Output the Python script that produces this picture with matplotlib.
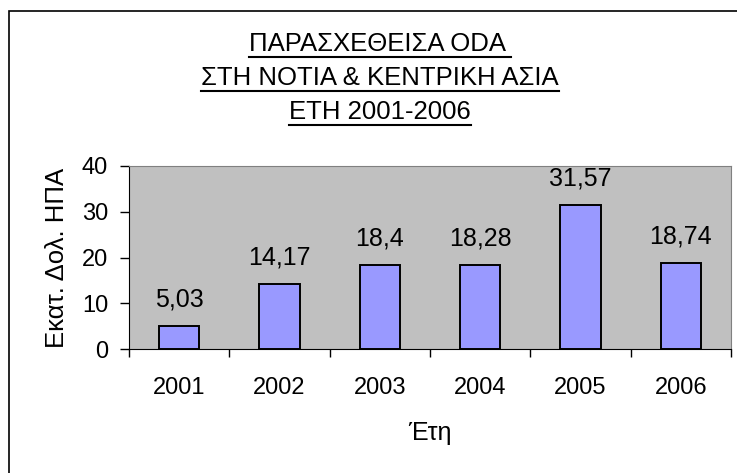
import numpy as np
import matplotlib
matplotlib.use("Agg")
import matplotlib.pyplot as plt
from matplotlib.patches import Rectangle
from matplotlib.lines import Line2D

years = ["2001", "2002", "2003", "2004", "2005", "2006"]
values = [5.03, 14.17, 18.4, 18.28, 31.57, 18.74]
value_labels = ["5,03", "14,17", "18,4", "18,28", "31,57", "18,74"]
title_lines = ["ΠΑΡΑΣΧΕΘΕΙΣΑ ODA ", "ΣΤΗ ΝΟΤΙΑ & ΚΕΝΤΡΙΚΗ ΑΣΙΑ", "ΕΤΗ 2001-2006"]

plt.rcParams['font.family'] = ['Liberation Sans', 'DejaVu Sans']

W, H = 737, 473
fig = plt.figure(figsize=(W / 100, H / 100), dpi=100)
fig.patch.set_facecolor("white")

# outer chart border (right/bottom edges fall outside the image)
fig.patches.append(Rectangle((9 / W, -0.05), 1.2, (H - 11) / H + 0.05,
                             transform=fig.transFigure, fill=False,
                             edgecolor="black", linewidth=1.2))

ax = fig.add_axes([129 / W, (H - 349) / H, (731 - 129) / W, (349 - 166) / H])
ax.set_facecolor("#C0C0C0")

x = np.arange(len(years))
ax.bar(x, values, width=0.4, color="#9999FF", edgecolor="black", linewidth=1.4, zorder=3)

for xi, v, lab in zip(x, values, value_labels):
    ax.annotate(lab, (xi, v), xytext=(0, 14), textcoords="offset points",
                ha="center", va="baseline", fontsize=18, annotation_clip=False)

ax.set_xlim(-0.5, len(years) - 0.5)
ax.set_ylim(0, 40)
ax.set_yticks([0, 10, 20, 30, 40])
ax.tick_params(axis="y", direction="out", length=6.5, width=1, pad=8.5, labelsize=17)

ax.set_xticks(np.arange(-0.5, len(years)), labels=[""] * (len(years) + 1))
ax.set_xticks(x, labels=years, minor=True)
ax.tick_params(axis="x", which="major", direction="out", length=6, width=1)
ax.tick_params(axis="x", which="minor", length=0, pad=20, labelsize=17)

for side in ("top", "right"):
    ax.spines[side].set_color("#808080")
ax.spines["left"].set_color("black")
ax.spines["bottom"].set_color("black")

ax.set_ylabel("Εκατ. Δολ. ΗΠΑ", fontsize=18.5, labelpad=9)
ax.set_xlabel("Έτη", fontsize=18, labelpad=16)

# underlined title lines
fig.canvas.draw()
renderer = fig.canvas.get_renderer()
cx = 380 / W
for i, line in enumerate(title_lines):
    base_y = (H - 50.7 - i * 34) / H
    t = fig.text(cx, base_y, line, ha="center", va="baseline", fontsize=18.5)
    bb = t.get_window_extent(renderer)
    uy = base_y - 6 / H
    fig.lines.append(Line2D([bb.x0 / W, bb.x1 / W], [uy, uy], transform=fig.transFigure,
                            color="black", linewidth=1.5))

fig.savefig("out.png", dpi=100)
